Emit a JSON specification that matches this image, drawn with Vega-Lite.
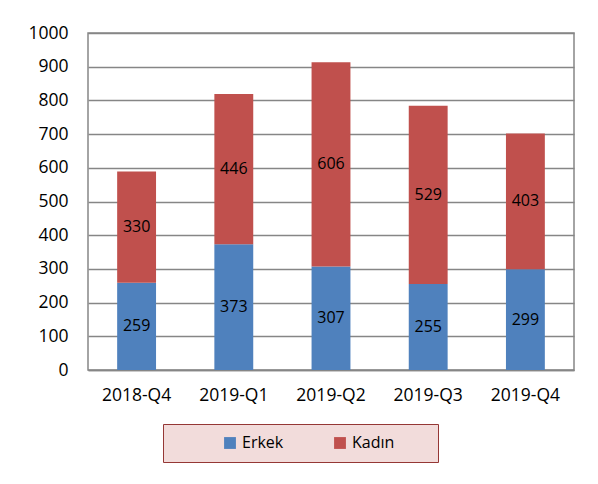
{
  "$schema": "https://vega.github.io/schema/vega-lite/v6.json",
  "autosize": "none",
  "width": 486,
  "height": 337,
  "padding": {"left": 88, "top": 33, "right": 24, "bottom": 114},
  "background": "white",
  "config": {
    "font": "Open Sans",
    "view": {"stroke": "#868686", "strokeWidth": 1.5},
    "axis": {"labelFont": "Open Sans", "labelFontSize": 17.5, "labelColor": "#000000"}
  },
  "data": {
    "values": [
      {"q": "2018-Q4", "g": "Erkek", "v": 259},
      {"q": "2018-Q4", "g": "Kadın", "v": 330},
      {"q": "2019-Q1", "g": "Erkek", "v": 373},
      {"q": "2019-Q1", "g": "Kadın", "v": 446},
      {"q": "2019-Q2", "g": "Erkek", "v": 307},
      {"q": "2019-Q2", "g": "Kadın", "v": 606},
      {"q": "2019-Q3", "g": "Erkek", "v": 255},
      {"q": "2019-Q3", "g": "Kadın", "v": 529},
      {"q": "2019-Q4", "g": "Erkek", "v": 299},
      {"q": "2019-Q4", "g": "Kadın", "v": 403}
    ]
  },
  "encoding": {
    "x": {"field": "q", "type": "nominal", "title": null,
      "scale": {"paddingInner": 0.6, "paddingOuter": 0.3},
      "axis": {"labelAngle": 0, "ticks": false, "domainColor": "#868686", "domainWidth": 1.5, "labelPadding": 16}},
    "y": {"field": "v", "type": "quantitative", "aggregate": "sum", "stack": "zero", "title": null,
      "scale": {"domain": [0, 1000], "nice": false},
      "axis": {"values": [0,100,200,300,400,500,600,700,800,900,1000], "format": "d", "ticks": false, "domain": false,
        "gridColor": "#868686", "gridWidth": 1.5, "gridOpacity": 1, "labelPadding": 20}},
    "order": {"field": "g", "sort": "ascending"}
  },
  "layer": [
    {
      "mark": {"type": "bar"},
      "encoding": {
        "color": {"field": "g", "type": "nominal", "sort": ["Erkek", "Kadın"],
          "scale": {"domain": ["Erkek", "Kadın"], "range": ["#4f81bd", "#c0504d"]},
          "legend": {"title": null, "orient": "none", "direction": "horizontal",
            "legendX": 75, "legendY": 391,
            "fillColor": "#f2dcdb", "strokeColor": "#953735",
            "padding": 11, "symbolType": "square", "symbolSize": 140, "symbolOpacity": 1,
            "symbolStrokeWidth": 0, "symbolOffset": 48,
            "labelFont": "Open Sans", "labelFontSize": 16, "labelColor": "#000000",
            "columnPadding": 0, "labelExpr": "datum.label == 'Kadın' ? datum.label + '\u2002\u2002\u2002\u2002\u200b' : datum.label"}
        }
      }
    },
    {
      "mark": {"type": "text", "fontSize": 16, "font": "Open Sans", "color": "#000000"},
      "encoding": {
        "y": {"field": "v", "type": "quantitative", "aggregate": "sum", "stack": "zero", "bandPosition": 0.5},
        "text": {"field": "v", "type": "quantitative", "aggregate": "sum"}
      }
    }
  ]
}
